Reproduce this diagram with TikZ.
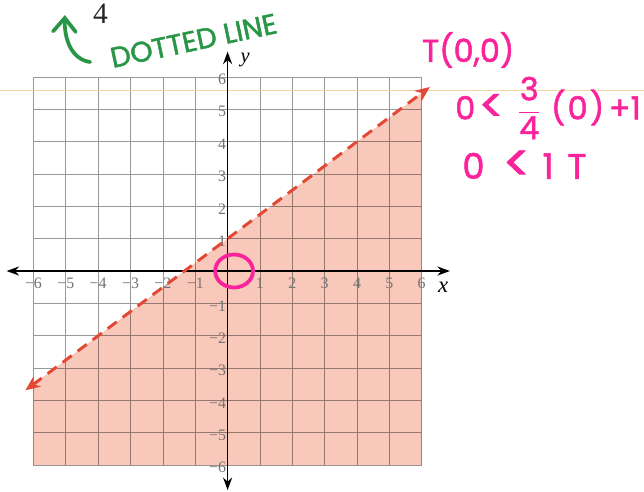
\documentclass[tikz,border=0pt]{standalone}
\usepackage{amsmath}
\usepackage{fontspec}
\setmainfont{Liberation Serif}
\newfontfamily\handfont{Poppins}[FakeBold=1.6]
\newcommand{\biglt}{\raisebox{-2pt}{\scalebox{1.45}{<}}}
\usepackage{tikz}
\usetikzlibrary{arrows.meta,positioning,shapes.geometric}
\definecolor{shadefill}{RGB}{248,200,186}
\definecolor{linered}{RGB}{226,72,52}
\definecolor{pengreen}{RGB}{40,150,70}
\definecolor{penpink}{RGB}{250,35,155}
\definecolor{scanorange}{RGB}{246,214,160}

\begin{document}
\begin{tikzpicture}[
  tick/.style={font=\fontsize{14}{16}\selectfont, text=black!55, inner sep=0pt},
  hand/.style={font=\handfont\fontsize{#1}{#1}\selectfont, inner sep=0pt},
  hand/.default=28,
  axis/.style={line width=1.3pt, {Stealth[length=11pt,width=8pt]}-{Stealth[length=11pt,width=8pt]}},
  bound/.style={linered, line width=2.6pt, dash pattern=on 10pt off 6.5pt,
                {Stealth[length=13pt,width=11pt]}-{Stealth[length=13pt,width=11pt]}},
]
\useasboundingbox (-7.035,-6.80) rectangle (12.87,8.377);
\fill[white] (-7.035,-6.80) rectangle (12.87,8.377);
% Shaded half-plane and grid
\fill[shadefill] (-6,-6) -- (-6,-3.5) -- (6,5.5) -- (6,-6) -- cycle;
\draw[black, opacity=0.4, line width=0.6pt] (-6,-6) grid (6,6);
\draw[scanorange, line width=0.5pt] (-7.035,5.6) -- (12.87,5.6);
% Axes
\coordinate (xaxL) at (-6.83,0);
\coordinate (xaxR) at (6.87,0);
\coordinate (yaxB) at (0,-6.77);
\coordinate (yaxT) at (0,6.78);
\draw[axis] (xaxL) -- (xaxR);
\draw[axis] (yaxB) -- (yaxT);
\foreach \i in {-6,...,-1,1,2,...,6} {
  \node[tick] (xlab\i) at (\i,-0.38) {\ifnum\i<0 −\number-\i\else\i\fi};
  \node[tick, anchor=east] (ylab\i) at (-0.04,\i-0.08) {\ifnum\i<0 −\number-\i\else\i\fi};
}
\node[font=\fontsize{20}{22}\selectfont\itshape] (xname) at (6.66,-0.5) {x};
\node[font=\fontsize{18}{20}\selectfont\itshape] (yname) at (0.54,6.52) {y};
% Boundary line
\coordinate (lnA) at (-6.25,-3.6875);
\coordinate (lnB) at (6.25,5.6875);
\draw[bound] (lnA) -- (lnB);
% Test point
\node[draw=penpink, line width=3.3pt, ellipse, minimum width=1.17cm,
      minimum height=1.02cm] (test) at (0.2,0) {};
% Handwritten notes
\node[font=\fontsize{26}{26}\selectfont, text=black!85] (four) at (-3.93,7.96) {4};
\node[hand=25, text=pengreen, rotate=12] (dotted) at (-1.05,7.12) {DOTTED LINE};
\coordinate (gTail) at (-4.25,6.46);
\coordinate (gTip) at (-5.03,7.91);
\draw[pengreen, line width=3.3pt, line cap=round,
      -{Straight Barb[length=12pt,width=20pt,line cap=round]}]
  (gTail) .. controls (-4.85,6.55) and (-5.05,7.2) .. (gTip);
\node[hand, text=penpink, anchor=west] (tpoint) at (6.0,6.83) {T(0,0)};
\node[hand=28, text=penpink, anchor=west] (subst) at (7.03,5.04)
  {0\hspace{3pt}\biglt\hspace{12pt}$\dfrac{\text{3}}{\text{4}}$\hspace{9pt}(\hspace{2pt}0\hspace{2pt})\hspace{4pt}+1};
\node[hand=31, text=penpink, anchor=west] (result) at (7.25,3.25)
  {0\hspace{16pt}\biglt\hspace{10pt}1\hspace{12pt}T};
\end{tikzpicture}
\end{document}
